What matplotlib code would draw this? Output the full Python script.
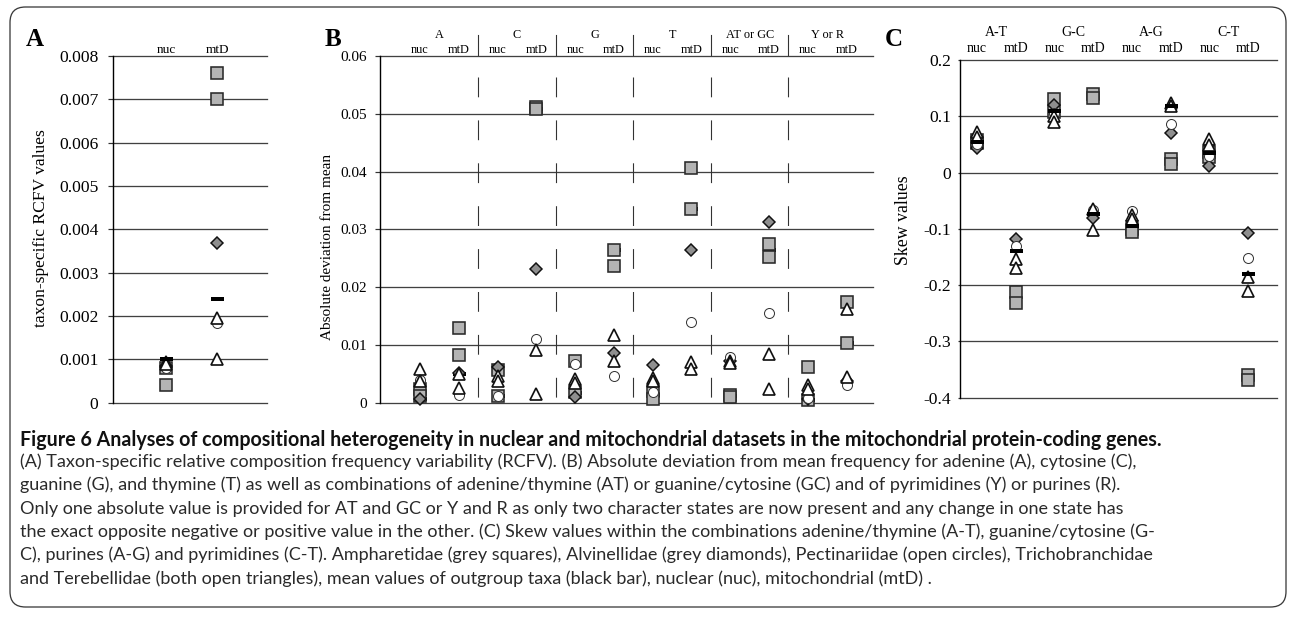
import matplotlib
matplotlib.use("Agg")
import matplotlib.pyplot as plt
import matplotlib.transforms as mtransforms
from matplotlib.patches import FancyBboxPatch
from matplotlib.lines import Line2D
from matplotlib import font_manager as fm
import numpy as np

# ---------------- data ----------------
# Panel A: taxon-specific RCFV values (nuc, mtD)
a_cats = ["nuc", "mtD"]
a_amph1 = [0.00080, 0.00760]
a_amph2 = [0.00041, 0.00701]
a_alvin = [0.00085, 0.00368]
a_pect = [0.00080, 0.00185]
a_tricho = [0.00095, 0.00196]
a_tereb = [0.00090, 0.00100]
a_outgr = [0.00100, 0.00240]
a_ticks = [0, 0.001, 0.002, 0.003, 0.004, 0.005, 0.006, 0.007, 0.008]
a_ticklabels = ["0", "0.001", "0.002", "0.003", "0.004", "0.005", "0.006", "0.007", "0.008"]

# Panel B: absolute deviation from mean
b_groups = ["A", "C", "G", "T", "AT or GC", "Y or R"]
b_amph1 = [0.0023, 0.0130, 0.0057, 0.0512, 0.0073, 0.0264, 0.0020, 0.0407, 0.0013, 0.0275, 0.0061, 0.0175]
b_amph2 = [0.0011, 0.0083, 0.0011, 0.0509, 0.0019, 0.0237, 0.0006, 0.0336, 0.0009, 0.0253, 0.0004, 0.0103]
b_alvin = [0.0006, 0.0051, 0.0062, 0.0231, 0.0010, 0.0086, 0.0066, 0.0264, 0.0072, 0.0313, 0.0006, 0.0038]
b_pect = [0.0040, 0.0014, 0.0012, 0.0111, 0.0067, 0.0046, 0.0018, 0.0140, 0.0079, 0.0156, 0.0008, 0.0030]
b_tricho = [0.0058, 0.0049, 0.0046, 0.0091, 0.0041, 0.0118, 0.0043, 0.0070, 0.0072, 0.0084, 0.0030, 0.0162]
b_tereb = [0.0037, 0.0025, 0.0037, 0.0015, 0.0034, 0.0073, 0.0038, 0.0059, 0.0069, 0.0023, 0.0024, 0.0044]
b_outgr = [0.0006, 0.0050, 0.0011, 0.0508, 0.0016, 0.0264, 0.0013, 0.0336, 0.0011, 0.0264, 0.0005, 0.0103]
b_ticks = [0, 0.01, 0.02, 0.03, 0.04, 0.05, 0.06]
b_ticklabels = ["0", "0.01", "0.02", "0.03", "0.04", "0.05", "0.06"]

# Panel C: skew values
c_groups = ["A-T", "G-C", "A-G", "C-T"]
c_amph1 = [0.058, -0.213, 0.130, 0.140, -0.100, 0.024, 0.037, -0.359]
c_amph2 = [0.052, -0.231, 0.108, 0.132, -0.106, 0.016, 0.028, -0.369]
c_alvin = [0.044, -0.118, 0.120, -0.080, -0.086, 0.071, 0.012, -0.108]
c_pect = [0.050, -0.131, 0.105, -0.067, -0.068, 0.087, 0.030, -0.151]
c_tricho = [0.072, -0.153, 0.100, -0.064, -0.075, 0.123, 0.060, -0.185]
c_tereb = [0.064, -0.169, 0.089, -0.102, -0.082, 0.119, 0.049, -0.210]
c_outgr = [0.055, -0.139, 0.110, -0.073, -0.095, 0.118, 0.035, -0.180]
c_ticks = [-0.4, -0.3, -0.2, -0.1, 0, 0.1, 0.2]
c_ticklabels = ["-0.4", "-0.3", "-0.2", "-0.1", "0", "0.1", "0.2"]

caption_title = ("Figure 6 Analyses of compositional heterogeneity in nuclear and mitochondrial "
                 "datasets in the mitochondrial protein-coding genes.")
caption_lines = [
    "(A) Taxon-specific relative composition frequency variability (RCFV). (B) Absolute deviation from mean frequency for adenine (A), cytosine (C),",
    "guanine (G), and thymine (T) as well as combinations of adenine/thymine (AT) or guanine/cytosine (GC) and of pyrimidines (Y) or purines (R).",
    "Only one absolute value is provided for AT and GC or Y and R as only two character states are now present and any change in one state has",
    "the exact opposite negative or positive value in the other. (C) Skew values within the combinations adenine/thymine (A-T), guanine/cytosine (G-",
    "C), purines (A-G) and pyrimidines (C-T). Ampharetidae (grey squares), Alvinellidae (grey diamonds), Pectinariidae (open circles), Trichobranchidae",
    "and Terebellidae (both open triangles), mean values of outgroup taxa (black bar), nuclear (nuc), mitochondrial (mtD) .",
]

# ---------------- style ----------------
W, H = 1290, 617
SERIF = "Liberation Serif"
names = {f.name for f in fm.fontManager.ttflist}
CAP_FONT = "Liberation Sans Narrow" if "Liberation Sans Narrow" in names else "Lato"

fig = plt.figure(figsize=(W / 100, H / 100), dpi=100)
PX = 0.72  # points per pixel


def fy(py):
    return 1 - py / H


def fx(px):
    return px / W


sq_kw = dict(marker="s", ms=11.5 * PX, mfc="#b4b4b4", mec="#2a2a2a", mew=1.6 * PX, ls="none")
dia_kw = dict(marker="D", ms=8.2 * PX, mfc="#8f8f8f", mec="#111111", mew=1.5 * PX, ls="none")
cir_kw = dict(marker="o", ms=10 * PX, mfc="white", mec="#333333", mew=1.0 * PX, ls="none")
tri_kw = dict(marker="^", ms=11.5 * PX, mfc="white", mec="#111111", mew=1.7 * PX, ls="none")
bar_marker = [(-1, -0.3), (1, -0.3), (1, 0.3), (-1, 0.3), (-1, -0.3)]
bar_kw = dict(marker=bar_marker, ms=13 * PX, mfc="black", mec="black", mew=0, ls="none")


def make_axes(rect_px, xlim, ylim, ticks, labels, ylabel, ylabel_pos, pad, fs_tick, fs_label):
    l, t, r, b = rect_px
    ax = fig.add_axes([fx(l), fy(b), (r - l) / W, (b - t) / H])
    ax.set_xlim(*xlim)
    ax.set_ylim(*ylim)
    for s in ["top", "right", "bottom"]:
        ax.spines[s].set_visible(False)
    ax.spines["left"].set_color("black")
    ax.spines["left"].set_linewidth(1.4 * PX)
    ax.spines["left"].set_zorder(6)
    ax.set_xticks([])
    ax.set_yticks(ticks)
    ax.set_yticklabels(labels, fontfamily=SERIF, fontsize=fs_tick)
    ax.tick_params(axis="y", length=5 * PX, width=1.2 * PX, color="#333333", pad=pad)
    for tv in ticks:
        ax.axhline(tv, color="#404040", lw=1.3 * PX, zorder=1, clip_on=False)
    ax.set_ylabel(ylabel, fontfamily=SERIF, fontsize=fs_label)
    ax.yaxis.set_label_coords(*ylabel_pos)
    ax.patch.set_alpha(0)
    return ax


def draw_series(ax, n, amph1, amph2, alvin, pect, tricho, tereb, outgr, bar_z):
    x = np.arange(n)
    ax.plot(x, outgr, zorder=bar_z, clip_on=False, **bar_kw)
    ax.plot(x, amph1, zorder=3, clip_on=False, **sq_kw)
    ax.plot(x, amph2, zorder=3, clip_on=False, **sq_kw)
    ax.plot(x, alvin, zorder=4, clip_on=False, **dia_kw)
    ax.plot(x, pect, zorder=4.5, clip_on=False, **cir_kw)
    ax.plot(x, tricho, zorder=5, clip_on=False, **tri_kw)
    ax.plot(x, tereb, zorder=5, clip_on=False, **tri_kw)


# ---------------- panel A ----------------
axA = make_axes((113, 56, 267, 402.7), (-1.04, 1.98), (0, 0.008), a_ticks, a_ticklabels,
                "taxon-specific RCFV values", (-0.416, 0.505), 7, 12.6, 12.6)
draw_series(axA, 2, a_amph1, a_amph2, a_alvin, a_pect, a_tricho, a_tereb, a_outgr, 6)
trA = mtransforms.blended_transform_factory(axA.transData, fig.transFigure)
for i, c in enumerate(a_cats):
    axA.text(i, fy(50), c, transform=trA, ha="center", va="center",
             fontfamily=SERIF, fontsize=9.5)

# ---------------- panel B ----------------
axB = make_axes((380, 56, 873, 402.7), (-1.03, 11.68), (0, 0.06), b_ticks, b_ticklabels,
                "Absolute deviation from mean", (-0.094, 0.45), 6, 11, 11)
draw_series(axB, 12, b_amph1, b_amph2, b_alvin, b_pect, b_tricho, b_tereb, b_outgr, 2)
trB = mtransforms.blended_transform_factory(axB.transData, fig.transFigure)
for g, name in enumerate(b_groups):
    axB.text(2 * g + 0.5, fy(35), name, transform=trB, ha="center", va="center",
             fontfamily=SERIF, fontsize=8.8)
    axB.text(2 * g, fy(50), "nuc", transform=trB, ha="center", va="center",
             fontfamily=SERIF, fontsize=8.8)
    axB.text(2 * g + 1, fy(50), "mtD", transform=trB, ha="center", va="center",
             fontfamily=SERIF, fontsize=8.8)
for g in range(1, len(b_groups)):
    xs = 2 * g - 0.5
    axB.add_line(Line2D([xs, xs], [fy(35), fy(55)], transform=trB, color="#333333",
                        lw=1.1 * PX, clip_on=False))
    axB.add_line(Line2D([xs, xs], [fy(77), fy(398)], transform=trB, color="#333333",
                        lw=1.1 * PX, clip_on=False, dashes=(18.0, 21.0)))

# ---------------- panel C ----------------
axC = make_axes((960, 60, 1277, 397.7), (-0.44, 7.75), (-0.4, 0.2), c_ticks, c_ticklabels,
                "Skew values", (-0.151, 0.526), 5, 12.6, 12.8)
axC.tick_params(axis="y", length=2 * PX)
draw_series(axC, 8, c_amph1, c_amph2, c_alvin, c_pect, c_tricho, c_tereb, c_outgr, 6)
trC = mtransforms.blended_transform_factory(axC.transData, fig.transFigure)
for g, name in enumerate(c_groups):
    axC.text(2 * g + 0.5, fy(33), name, transform=trC, ha="center", va="center",
             fontfamily=SERIF, fontsize=10)
    axC.text(2 * g, fy(49), "nuc", transform=trC, ha="center", va="center",
             fontfamily=SERIF, fontsize=10)
    axC.text(2 * g + 1, fy(49), "mtD", transform=trC, ha="center", va="center",
             fontfamily=SERIF, fontsize=10)

# panel letters
for letter, px_, py_ in [("A", 26, 40), ("B", 325, 40), ("C", 885, 40)]:
    fig.text(fx(px_), fy(py_), letter, ha="left", va="center", fontfamily=SERIF,
             fontweight="bold", fontsize=18)

# ---------------- border ----------------
border = FancyBboxPatch((fx(10), fy(607)), fx(1286) - fx(10), fy(7) - fy(607),
                        boxstyle="round,pad=0,rounding_size=0.012",
                        transform=fig.transFigure, fill=False, ec="#3a3a3a", lw=1.3 * PX)
border.set_mutation_aspect(W / H)
fig.patches.append(border)

# ---------------- caption ----------------
title_t = fig.text(fx(20), fy(445.5), caption_title, ha="left", va="baseline",
                   fontfamily=CAP_FONT, fontweight="bold", fontsize=12, color="#111111")
baselines = [467, 490.3, 513.6, 537, 560.3, 583.6]
targets = [1028, 1055, 1138, 1152, 1147, 962]
line_ts = []
for s, b in zip(caption_lines, baselines):
    line_ts.append(fig.text(fx(20), fy(b), s, ha="left", va="baseline",
                            fontfamily=CAP_FONT, fontsize=12, color="#2a2a2a"))

renderer = fig.canvas.get_renderer()
wt = title_t.get_window_extent(renderer).width
title_t.set_fontsize(12 * (1155 - 20) / wt)
ratios = []
for t, tg in zip(line_ts, targets):
    ratios.append((tg - 20) / t.get_window_extent(renderer).width)
scale = float(np.median(ratios))
for t in line_ts:
    t.set_fontsize(12 * scale)

fig.savefig("out.png", dpi=100)
